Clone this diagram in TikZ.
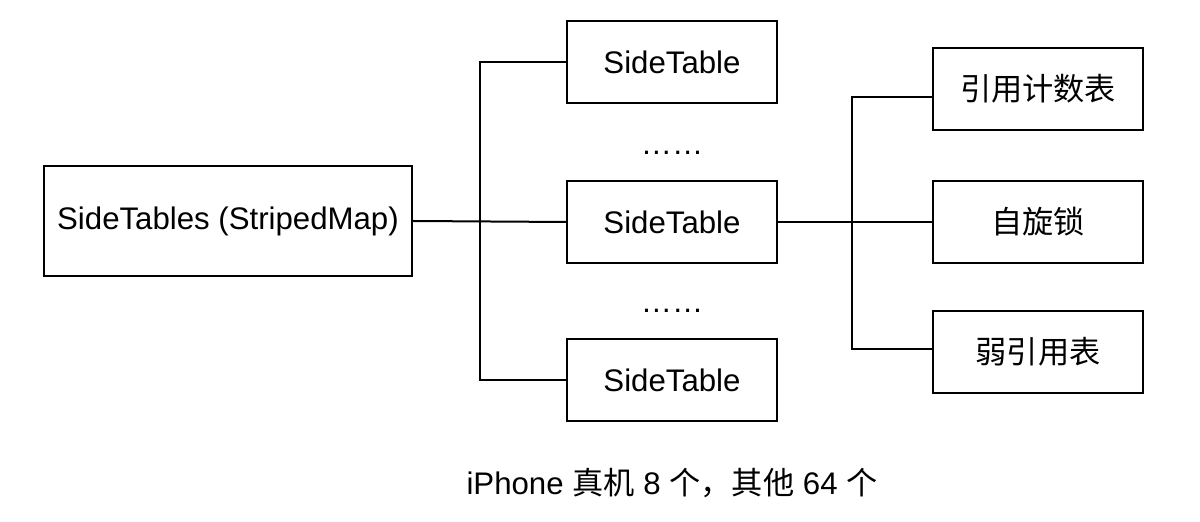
\documentclass[tikz,border=0pt]{standalone}
\usepackage{fontspec}
\setmainfont{Liberation Sans}
\newfontfamily\cjk{Noto Sans CJK SC}
\begin{document}
\begin{tikzpicture}[x=0.5pt,y=-0.5pt,
  box/.style={draw=black,line width=1pt,minimum width=105pt,minimum height=41pt,inner sep=0pt,font=\fontsize{15.6}{18}\selectfont},
  conn/.style={draw=black,line width=1pt},
  lbl/.style={font=\fontsize{15.6}{18}\selectfont,inner sep=0pt}]
\useasboundingbox (0,0) rectangle (1200,522);
\node[box,minimum width=184pt,minimum height=55pt] (st) at (228,221) {SideTables (StripedMap)};
\node[box] (m1) at (672,62) {SideTable};
\node[box] (m2) at (672,222) {SideTable};
\node[box] (m3) at (672,380) {SideTable};
\node[box] (r1) at (1038,89) {\cjk 引用计数表};
\node[box] (r2) at (1038,222) {\cjk 自旋锁};
\node[box] (r3) at (1038,352) {\cjk 弱引用表};
\node[lbl] (d1) at (672,153) {……};
\node[lbl] (d2) at (672,311) {……};
\node[lbl] (cap) at (672,483) {iPhone {\cjk 真机} 8 {\cjk 个，其他} 64 {\cjk 个}};
\coordinate (j1) at (480,222);
\coordinate (j2) at (852,222);
\coordinate (r1in) at (933,97);
\coordinate (r3in) at (933,349);
\draw[conn] (st.east) -- (m2.west);
\draw[conn] (m1.west) -- (m1.west -| j1) -- (m3.west -| j1) -- (m3.west);
\draw[conn] (m2.east) -- (r2.west);
\draw[conn] (r1in) -- (r1in -| j2) -- (r3in -| j2) -- (r3in);
\end{tikzpicture}
\end{document}
